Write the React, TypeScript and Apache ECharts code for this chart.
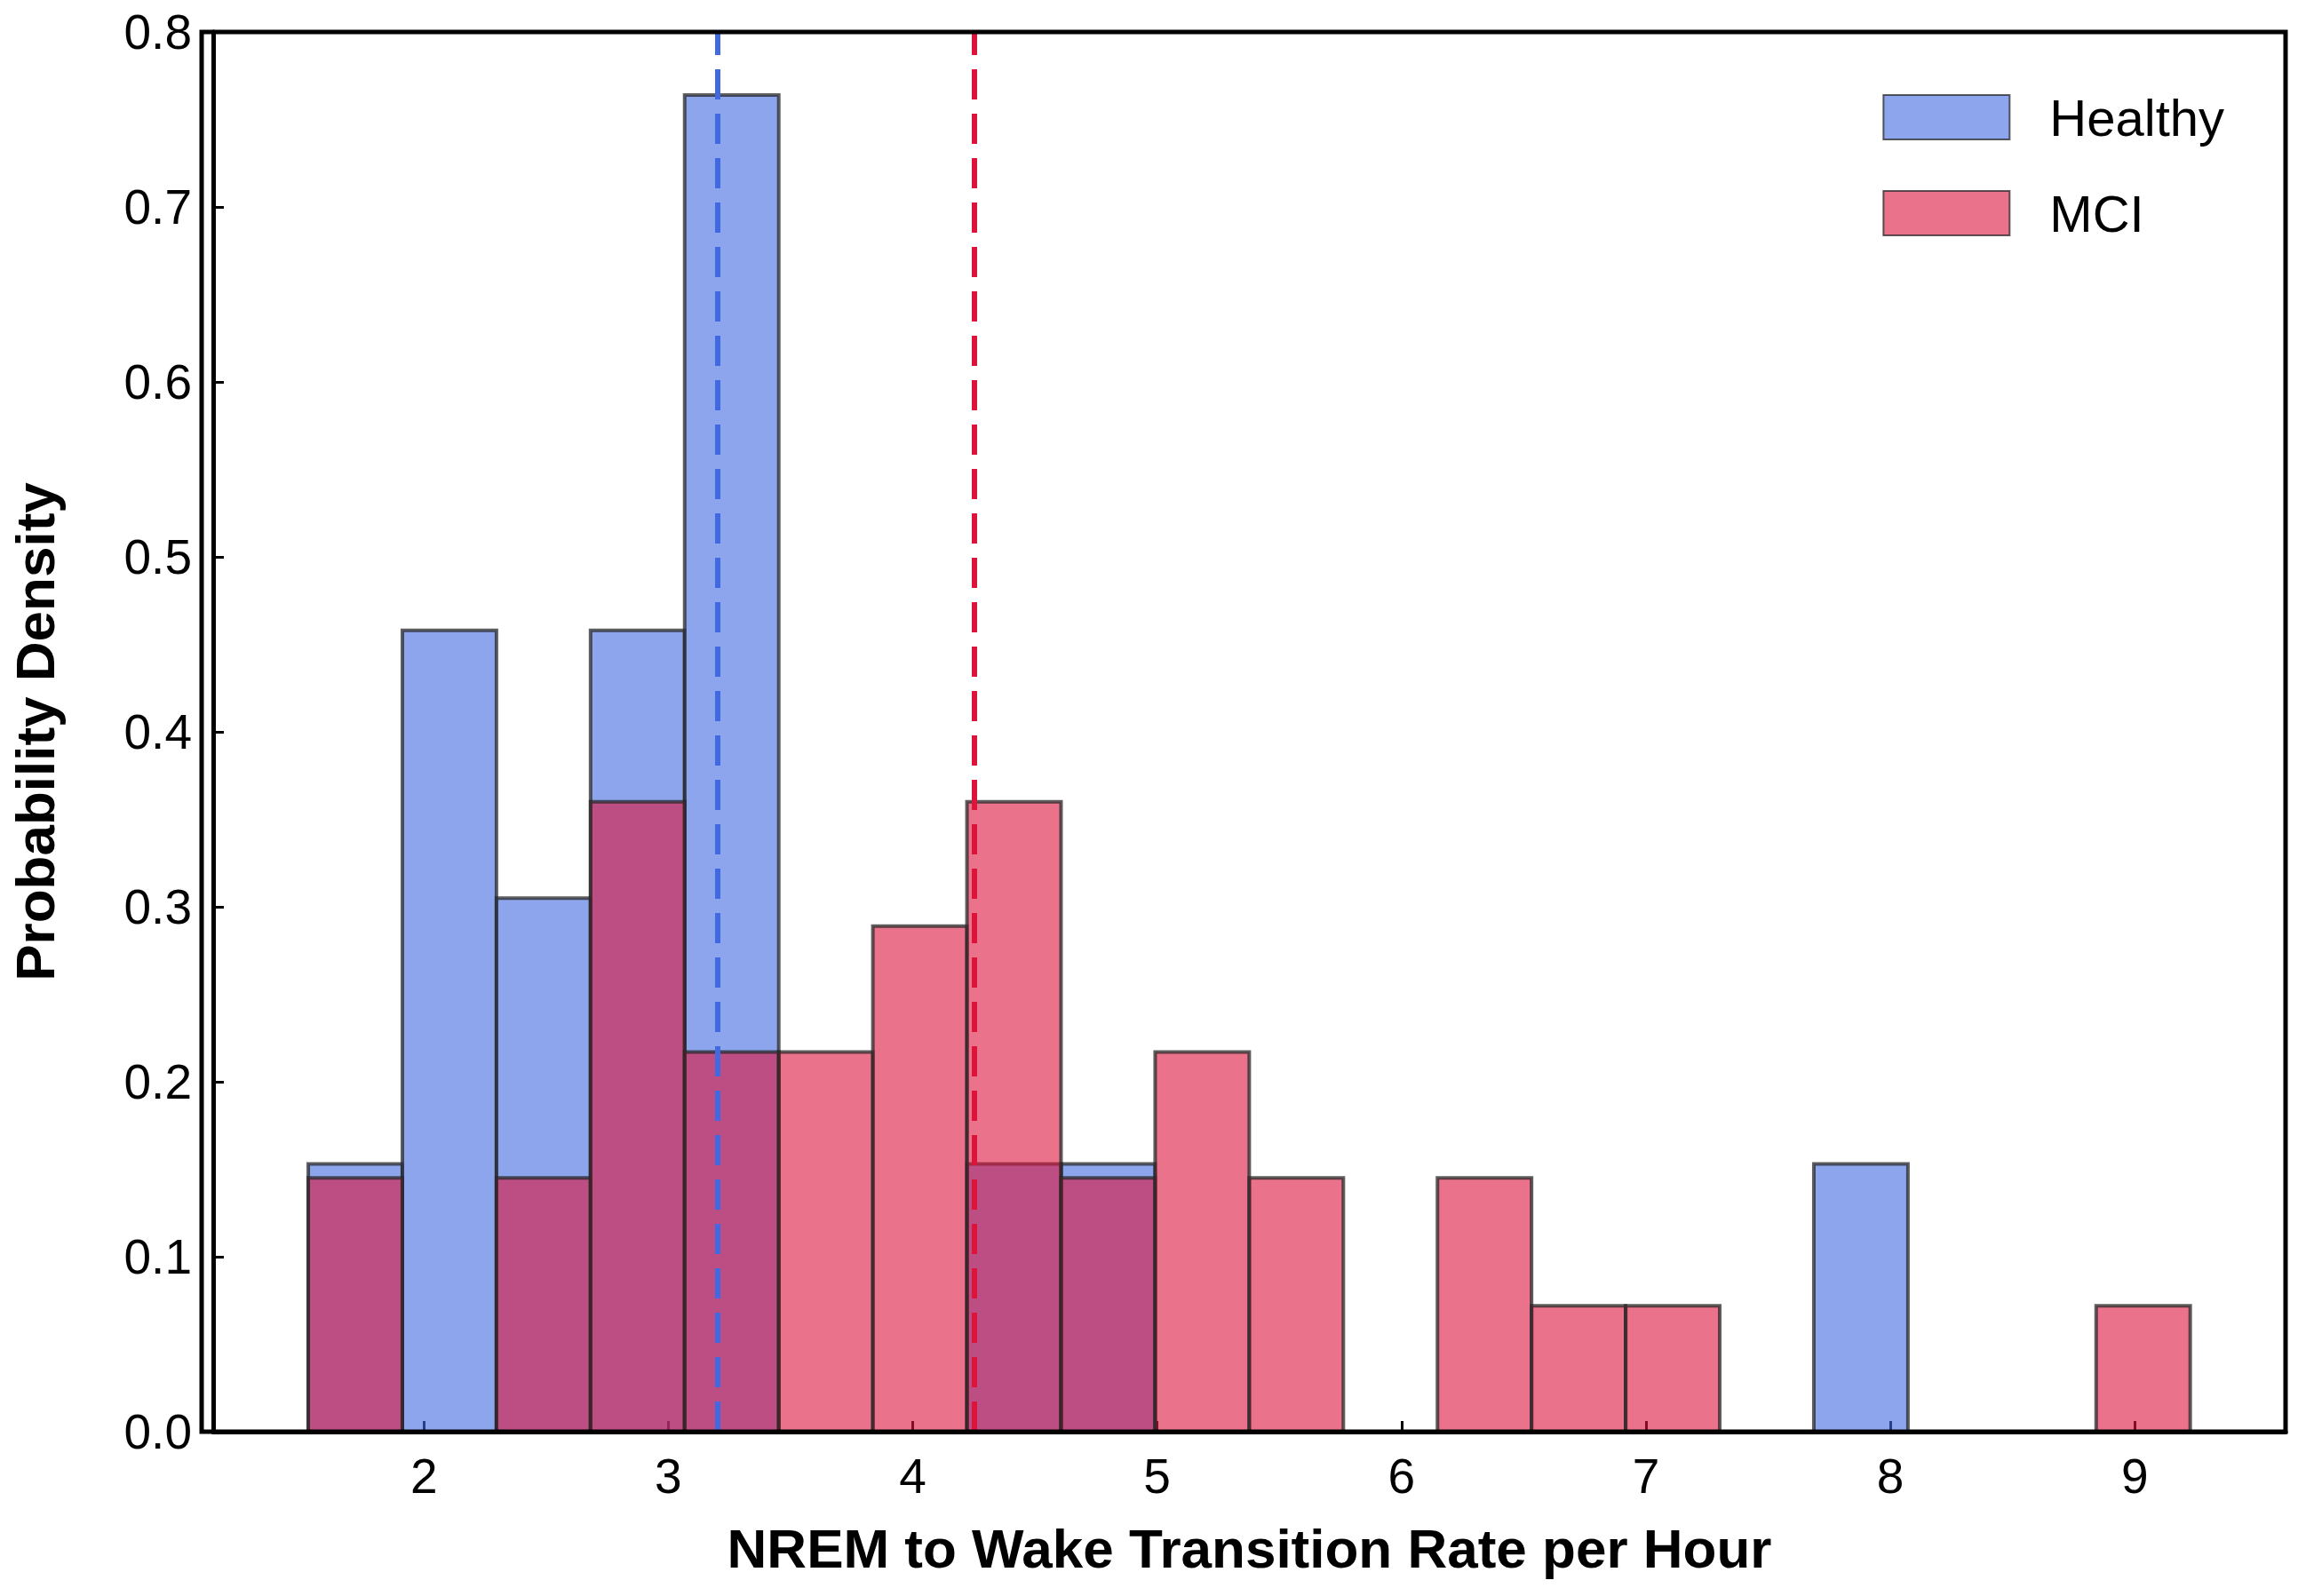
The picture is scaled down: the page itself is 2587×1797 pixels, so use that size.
import React, { useEffect, useRef } from "react";
import * as echarts from "echarts";

// histogram bins shared by both groups
const binStart = 1.527;
const binWidth = 0.385;
const healthyDensity = [0.153, 0.458, 0.305, 0.458, 0.764, 0, 0, 0.153, 0.153, 0, 0, 0, 0, 0, 0, 0, 0.153, 0, 0, 0];
const mciDensity = [0.145, 0, 0.145, 0.36, 0.217, 0.217, 0.289, 0.36, 0.145, 0.217, 0.145, 0, 0.145, 0.072, 0.072, 0, 0, 0, 0, 0.072];
const healthyMean = 3.198;
const mciMean = 4.251;
const xTicks = [2, 3, 4, 5, 6, 7, 8, 9];

const toBins = (vals: number[]) =>
  vals
    .map((v, i) => [binStart + i * binWidth, binStart + (i + 1) * binWidth, v])
    .filter((d) => d[2] > 0);

const renderBar = (params: any, api: any) => {
  const p0 = api.coord([api.value(0), 0]);
  const p1 = api.coord([api.value(1), api.value(2)]);
  return {
    type: "rect",
    shape: { x: p0[0], y: p1[1], width: p1[0] - p0[0], height: p0[1] - p1[1] },
    style: api.style({ stroke: "rgba(40,40,40,0.75)", lineWidth: 4 }),
  };
};

const font = "'Liberation Sans', Arial, sans-serif";

const App: React.FC = () => {
  const ref = useRef<HTMLDivElement | null>(null);

  useEffect(() => {
    document.body.style.margin = "0";
    if (!ref.current) return;
    const chart = echarts.init(ref.current, undefined, { renderer: "svg" });
    const mark = (x: number, color: string) => ({
      silent: true,
      symbol: "none",
      label: { show: false },
      lineStyle: { color, width: 6, type: [34, 16], opacity: 1 },
      data: [{ xAxis: x }],
    });
    chart.setOption({
      animation: false,
      textStyle: { fontFamily: font },
      grid: { left: 227, right: 14, top: 36, bottom: 185 },
      legend: {
        right: 78,
        top: 98,
        orient: "vertical",
        itemWidth: 142,
        itemHeight: 50,
        itemGap: 50,
        icon: "rect",
        textStyle: { fontSize: 58, color: "#000", padding: [0, 0, 0, 40], fontFamily: font },
        data: ["Healthy", "MCI"],
      },
      xAxis: {
        type: "value",
        min: 1.138,
        max: 9.617,
        name: "NREM to Wake Transition Rate per Hour",
        nameLocation: "middle",
        nameGap: 100,
        nameTextStyle: { fontSize: 62, fontWeight: "bold", color: "#000" },
        axisLine: { onZero: false, lineStyle: { color: "#000", width: 5 } },
        axisTick: { inside: true, length: 12, customValues: xTicks, lineStyle: { color: "#000", width: 3 } },
        axisLabel: { customValues: xTicks, fontSize: 55, color: "#000", margin: 22 },
        splitLine: { show: false },
      },
      yAxis: {
        type: "value",
        min: 0,
        max: 0.8,
        interval: 0.1,
        name: "Probability Density",
        nameLocation: "middle",
        nameGap: 170,
        nameTextStyle: { fontSize: 62, fontWeight: "bold", color: "#000" },
        axisLine: { show: true, lineStyle: { color: "#000", width: 5 } },
        axisTick: { show: true, inside: true, length: 12, lineStyle: { color: "#000", width: 3 } },
        axisLabel: { fontSize: 55, color: "#000", margin: 24, formatter: (v: number) => v.toFixed(1) },
        splitLine: { show: false },
      },
      series: [
        {
          name: "Healthy",
          type: "custom",
          renderItem: renderBar,
          itemStyle: { color: "rgba(65,105,225,0.6)", borderColor: "rgba(40,40,40,0.75)", borderWidth: 4 },
          encode: { x: [0, 1], y: 2 },
          data: toBins(healthyDensity),
          markLine: mark(healthyMean, "#4169E1"),
          z: 2,
        },
        {
          name: "MCI",
          type: "custom",
          renderItem: renderBar,
          itemStyle: { color: "rgba(220,20,60,0.6)", borderColor: "rgba(40,40,40,0.75)", borderWidth: 4 },
          encode: { x: [0, 1], y: 2 },
          data: toBins(mciDensity),
          markLine: mark(mciMean, "#DC143C"),
          z: 3,
        },
      ],
      graphic: [
        {
          type: "rect",
          shape: { x: 227, y: 36, width: 2587 - 227 - 14, height: 1797 - 36 - 185 },
          style: { fill: "none", stroke: "#000", lineWidth: 5 },
          silent: true,
          z: 100,
        },
      ],
    });
    return () => chart.dispose();
  }, []);

  return <div ref={ref} style={{ width: "2587px", height: "1797px" }} />;
};

export default App;
